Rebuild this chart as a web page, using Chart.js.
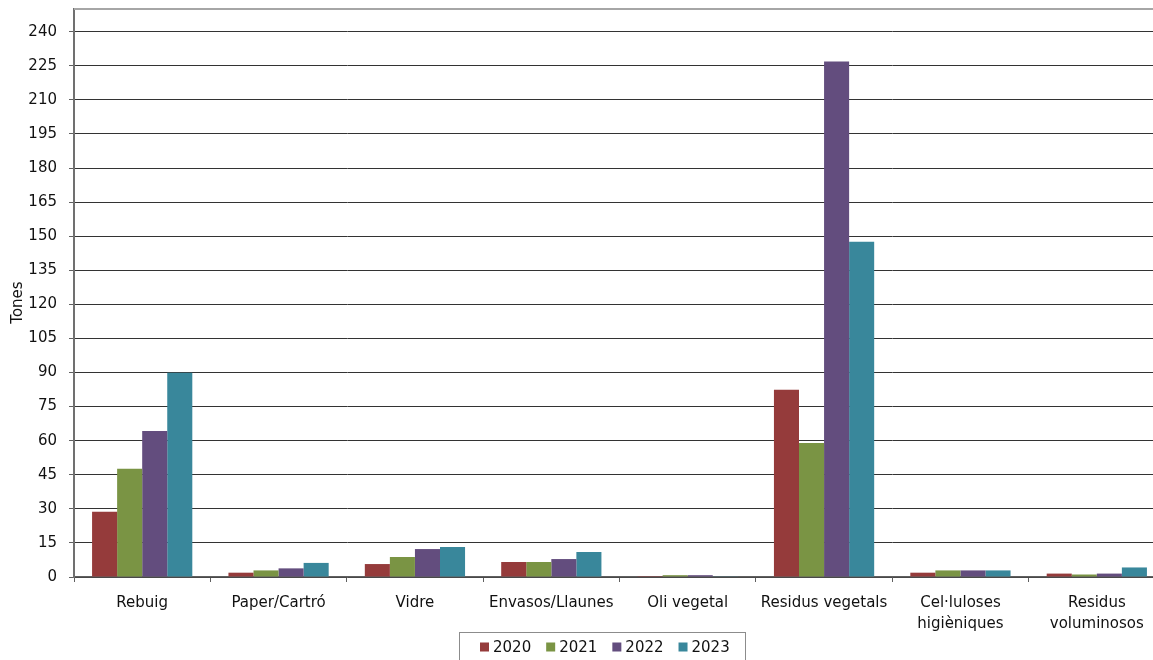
<!DOCTYPE html>
<html>
<head>
<meta charset="utf-8">
<script src="https://cdn.jsdelivr.net/npm/chart.js@4/dist/chart.umd.min.js"></script>
<style>
  html, body { margin: 0; padding: 0; background: #fff; overflow: hidden; }
  #wrap { width: 1153px; height: 660px; overflow: hidden; }
</style>
</head>
<body>
<div id="wrap"><canvas id="myChart" width="1165" height="660"></canvas></div>
<script>
// categories and values (tones) per year
var categories = ['Rebuig', 'Paper/Cartró', 'Vidre', 'Envasos/Llaunes', 'Oli vegetal',
  'Residus vegetals', ['Cel·luloses', 'higièniques'], ['Residus', 'voluminosos']];
var years = ['2020', '2021', '2022', '2023'];
var values2020 = [28.7, 1.9, 5.7, 6.6, 0.4, 82.4, 1.9, 1.5];
var values2021 = [47.6, 2.9, 8.8, 6.6, 0.8, 59.0, 2.9, 1.1];
var values2022 = [64.3, 3.8, 12.3, 7.9, 0.8, 226.9, 2.9, 1.5];
var values2023 = [89.9, 6.2, 13.2, 11.0, 0.3, 147.6, 2.9, 4.2];
var colors = ['#953b3b', '#7a9444', '#634d7e', '#39879b'];

var font = { family: 'DejaVu Sans', size: 15, lineHeight: 1.4 };

// top border of the plot and a boxed legend under the axis
var frame = {
  id: 'frame',
  afterDraw: function (chart) {
    var c = chart.ctx, a = chart.chartArea;
    c.save();
    c.strokeStyle = '#a6a6a6';
    c.lineWidth = 2;
    c.beginPath();
    c.moveTo(a.left, a.top);
    c.lineTo(a.right, a.top);
    c.stroke();

    // legend
    c.font = '15px "DejaVu Sans"';
    c.textBaseline = 'middle';
    var ds = chart.data.datasets;
    var sq = 9, gap = 4, step = 15;
    var total = 0;
    ds.forEach(function (d, i) {
      total += sq + gap + c.measureText(d.label).width + (i < ds.length - 1 ? step : 0);
    });
    var cx = 605, cy = 647;
    var x = Math.round(cx - total / 2);
    c.strokeStyle = '#8c8c8c';
    c.lineWidth = 1;
    c.strokeRect(x - 21 + 0.5, 632.5, Math.round(total + 36), 40);
    ds.forEach(function (d) {
      c.fillStyle = d.backgroundColor;
      c.fillRect(x, cy - sq / 2, sq, sq);
      x += sq + gap;
      c.fillStyle = '#111';
      c.fillText(d.label, x, cy + 1);
      x += c.measureText(d.label).width + step;
    });
    c.restore();
  }
};

var ctx = document.getElementById('myChart').getContext('2d');
var chart = new Chart(ctx, {
  type: 'bar',
  data: {
    labels: categories,
    datasets: [
      { label: years[0], data: values2020, backgroundColor: colors[0] },
      { label: years[1], data: values2021, backgroundColor: colors[1] },
      { label: years[2], data: values2022, backgroundColor: colors[2] },
      { label: years[3], data: values2023, backgroundColor: colors[3] }
    ]
  },
  options: {
    responsive: false,
    animation: false,
    layout: { padding: { top: 9, left: 0, right: 0, bottom: 0 } },
    datasets: { bar: { categoryPercentage: 0.735, barPercentage: 1.0 } },
    plugins: { legend: { display: false }, tooltip: { enabled: false } },
    scales: {
      x: {
        grid: { drawOnChartArea: false, tickLength: 5, color: '#606060', offset: true },
        border: { color: '#606060', width: 1.5 },
        ticks: { color: '#111', font: font, padding: 11, maxRotation: 0, autoSkip: false },
        afterFit: function (s) { s.height = 83; s.paddingLeft = 0; s.paddingRight = 0; }
      },
      y: {
        min: 0,
        max: 250,
        grid: { color: '#333', tickColor: '#606060', tickLength: 5 },
        border: { color: '#707070', width: 2 },
        ticks: { stepSize: 15, color: '#111', font: font, padding: 12 },
        title: { display: true, text: 'Tones    ', color: '#111', font: font, padding: { top: 8, bottom: 0 } },
        afterBuildTicks: function (s) { s.ticks = s.ticks.filter(function (t) { return t.value <= 240; }); },
        afterFit: function (s) { s.width = 74; s.paddingTop = 0; s.paddingBottom = 0; }
      }
    }
  },
  plugins: [frame]
});
</script>
</body>
</html>
